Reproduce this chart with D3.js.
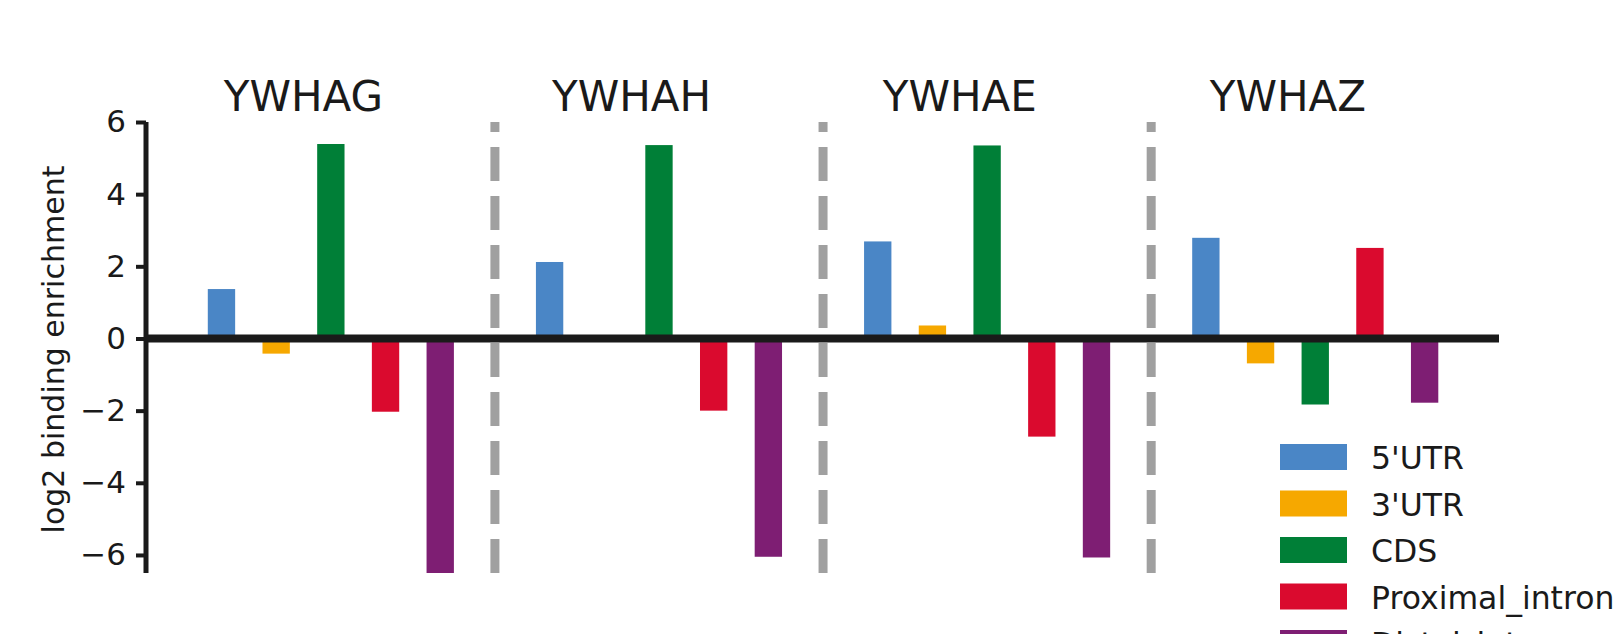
<!DOCTYPE html>
<html>
<head>
<meta charset="utf-8">
<script src="https://cdn.jsdelivr.net/npm/d3@7"></script>
<style>
    html, body { margin: 0; padding: 0; background: #fff; }
    svg { display: block; font-family: "DejaVu Sans", sans-serif; }
</style>
</head>
<body>
<div id="chart"></div>
<script>
'use strict'

// proteins (one panel per protein) and transcript regions
const proteins = ['YWHAG', 'YWHAH', 'YWHAE', 'YWHAZ']
const regions = ["5'UTR", "3'UTR", 'CDS', 'Proximal_intron', 'Distal_intron']
const regionColors = ['#4a86c6', '#f6a800', '#007f37', '#da0a2e', '#7e1e73']

// log2 binding enrichment, one array per region, in protein order
const utr5 = [1.37, 2.12, 2.69, 2.79]
const utr3 = [-0.42, 0.05, 0.36, -0.69]
const cds = [5.39, 5.36, 5.35, -1.83]
const proximalIntron = [-2.03, -2.00, -2.72, 2.51]
const distalIntron = [-6.5, -6.05, -6.07, -1.78]

const yTicks = [-6, -4, -2, 0, 2, 4, 6]

////////////////////////////////////
//////////// svg setup /////////////
////////////////////////////////////

const svgWidth = 1614
const svgHeight = 634

const svg = d3.select('#chart')
    .append('svg')
    .attr('width', svgWidth)
    .attr('height', svgHeight)

const series = [utr5, utr3, cds, proximalIntron, distalIntron]

// each protein takes 6 slots: 5 bars + the dashed separator
var bars = []
proteins.forEach((p, i) => {
    series.forEach((vals, j) => {
        bars.push({ protein: p, region: regions[j], pos: i * 6 + j, value: vals[i], color: regionColors[j] })
    })
})

const x = d3.scaleLinear().domain([-1.38, 23.36]).range([146, 1499])
const y = d3.scaleLinear().domain([-6.5, 6]).range([573, 122])
const barW = x(0.5) - x(0)

////////////////////////////////////
/////////// separators /////////////
////////////////////////////////////

svg.selectAll('.sep')
    .data(proteins.slice(0, -1))
    .join('line')
    .attr('class', 'sep')
    .attr('x1', (d, i) => x(i * 6 + 5))
    .attr('x2', (d, i) => x(i * 6 + 5))
    .attr('y1', y(-6.5))
    .attr('y2', y(6))
    .attr('stroke', '#a0a0a0')
    .attr('stroke-width', 9)
    .attr('stroke-dasharray', '34 15')

////////////////////////////////////
////////////// bars ////////////////
////////////////////////////////////

svg.selectAll('.bar')
    .data(bars)
    .join('rect')
    .attr('class', 'bar')
    .attr('x', d => x(d.pos) - barW / 2)
    .attr('width', barW)
    .attr('y', d => y(Math.max(0, d.value)))
    .attr('height', d => Math.abs(y(d.value) - y(0)))
    .attr('fill', d => d.color)

// zero line
svg.append('line')
    .attr('x1', x.range()[0])
    .attr('x2', x.range()[1])
    .attr('y1', y(0))
    .attr('y2', y(0))
    .attr('stroke', '#1a1a1a')
    .attr('stroke-width', 8)

////////////////////////////////////
////////////// axis ////////////////
////////////////////////////////////

const yAxis = svg.append('g')
    .attr('transform', `translate(${x.range()[0]},0)`)
    .call(d3.axisLeft(y).tickValues(yTicks).tickSize(10).tickPadding(10)
        .tickFormat(d => d < 0 ? '\u2212' + Math.abs(d) : d))

yAxis.select('.domain')
    .attr('d', `M0,${y(-6.5)}V${y(6)}`)
    .attr('stroke', '#1a1a1a')
    .attr('stroke-width', 5)
yAxis.selectAll('.tick line').attr('stroke', '#1a1a1a').attr('stroke-width', 4)
yAxis.selectAll('.tick text')
    .attr('font-size', 31)
    .attr('fill', '#1a1a1a')
    .attr('font-family', '"DejaVu Sans", sans-serif')

svg.append('text')
    .attr('transform', `translate(64,${(y(-6.5) + y(6)) / 2 + 2}) rotate(-90)`)
    .attr('text-anchor', 'middle')
    .attr('font-size', 30)
    .attr('fill', '#1a1a1a')
    .text('log2 binding enrichment')

// panel titles
svg.selectAll('.title')
    .data(proteins)
    .join('text')
    .attr('class', 'title')
    .attr('x', (d, i) => x(i * 6 + 1.5))
    .attr('y', 111)
    .attr('text-anchor', 'middle')
    .attr('font-size', 42)
    .attr('fill', '#1a1a1a')
    .text(d => d)

////////////////////////////////////
///////////// legend ///////////////
////////////////////////////////////

const legend = svg.append('g').attr('transform', 'translate(1280,444)')
const item = legend.selectAll('.item')
    .data(regions)
    .join('g')
    .attr('class', 'item')
    .attr('transform', (d, i) => `translate(0,${i * 46.5})`)

item.append('rect')
    .attr('width', 67)
    .attr('height', 26)
    .attr('fill', (d, i) => regionColors[i])

item.append('text')
    .attr('x', 91)
    .attr('y', 25)
    .attr('font-size', 31.5)
    .attr('fill', '#1a1a1a')
    .text(d => d)
</script>
</body>
</html>
